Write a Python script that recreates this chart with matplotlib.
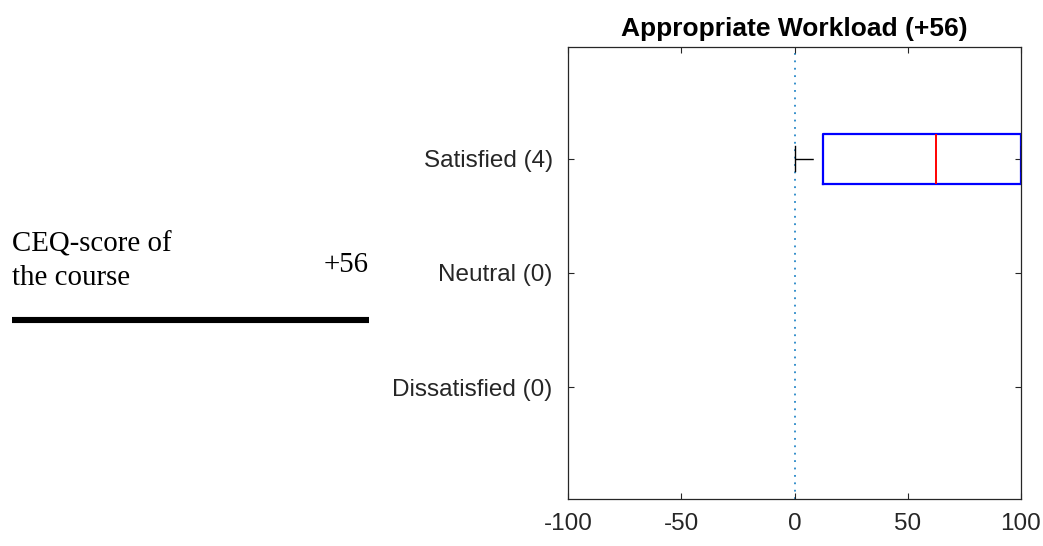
import numpy as np
import matplotlib
matplotlib.use("Agg")
import matplotlib.pyplot as plt
from matplotlib.lines import Line2D

# ---- data ----
categories = ["Dissatisfied (0)", "Neutral (0)", "Satisfied (4)"]
cat_positions = [1, 2, 3]
satisfied_scores = [0, 25, 100, 100]   # individual responses for the satisfied group
ceq_score = "+56"
title = "Appropriate Workload (+56)"
xticks = [-100, -50, 0, 50, 100]
side_label_lines = ["CEQ-score of", "the course"]

# MATLAB-style quantiles
q1, med, q3 = np.percentile(satisfied_scores, [25, 50, 75], method="hazen")
iqr = q3 - q1
data = np.asarray(satisfied_scores)
whislo = data[data >= q1 - 1.5 * iqr].min()
whishi = data[data <= q3 + 1.5 * iqr].max()
stats = [dict(med=med, q1=q1, q3=q3, whislo=whislo, whishi=whishi, fliers=[])]

W, H = 1043, 546
fig = plt.figure(figsize=(W / 100, H / 100), dpi=100)
ax = fig.add_axes([568 / W, 1 - 499 / H, (1021 - 568) / W, (499 - 47) / H])

dark = (0.15, 0.15, 0.15)
ax.axvline(0, color=(0.0, 0.447, 0.741), lw=1.3, alpha=0.85,
           linestyle=(0, (1, 3.1)), zorder=1)

ax.bxp(stats, positions=[3], vert=False, widths=0.44, capwidths=0.22,
       showfliers=False, manage_ticks=False,
       boxprops=dict(color="blue", lw=1.6),
       medianprops=dict(color="red", lw=1.4),
       whiskerprops=dict(color="black", lw=1.0, linestyle=(13, (13, 7))),
       capprops=dict(color="black", lw=1.0))

ax.set_xlim(-100, 100)
ax.set_ylim(1 - 0.98, 3 + 0.98)
ax.set_xticks(xticks)
ax.set_xticklabels([str(v) for v in xticks])
ax.set_yticks(cat_positions)
ax.set_yticklabels(categories)

font = "Liberation Sans"
for lbl in ax.get_xticklabels() + ax.get_yticklabels():
    lbl.set_fontfamily(font)
    lbl.set_fontsize(17.5)
    lbl.set_color(dark)
ax.tick_params(direction="in", top=True, right=True, length=4, width=0.8,
               color=dark)
ax.tick_params(axis="y", pad=11)
ax.tick_params(axis="x", pad=10)
for s in ax.spines.values():
    s.set_color(dark)
    s.set_linewidth(0.9)

ax.set_title(title, fontfamily=font, fontweight="bold", fontsize=19, pad=8)

# left-side annotation
for i, line in enumerate(side_label_lines):
    fig.text(12 / W, 1 - (252 + 33 * i) / H, line, fontfamily="Liberation Serif",
             fontsize=20.8, va="baseline", ha="left")
fig.text(369 / W, 1 - 272 / H, ceq_score, fontfamily="Liberation Serif",
         fontsize=20.8, va="baseline", ha="right")
fig.add_artist(Line2D([12 / W, 369 / W], [1 - 320 / H, 1 - 320 / H],
                      color="black", lw=4.4, transform=fig.transFigure,
                      solid_capstyle="butt"))

fig.savefig("out.png", dpi=100)
